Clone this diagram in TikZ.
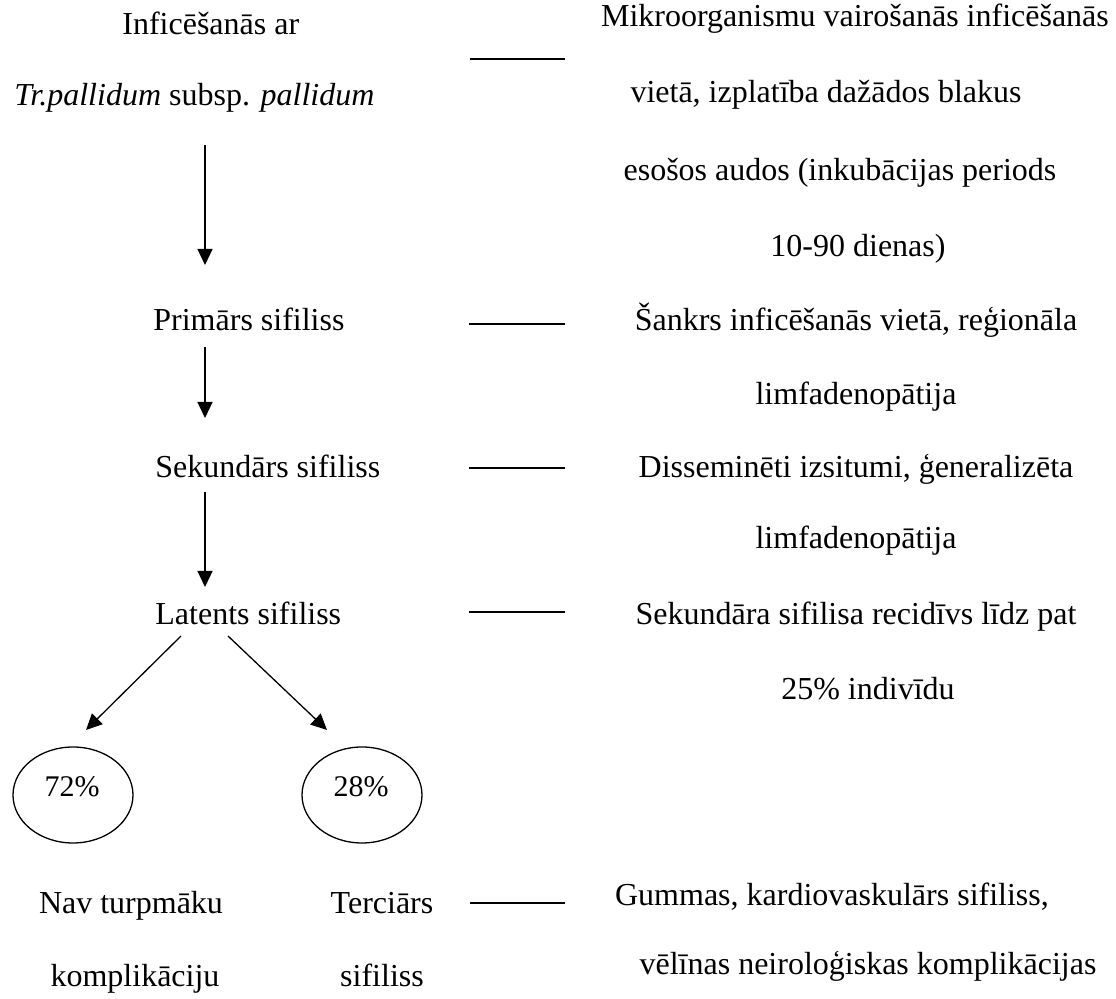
\documentclass[tikz,border=0pt]{standalone}
\usepackage{fontspec}
\setmainfont{Liberation Serif}
\usetikzlibrary{shapes.geometric, arrows.meta, positioning}

\begin{document}
\begin{tikzpicture}[
    x=0.5pt, y=-0.5pt,
    stage/.style={inner sep=0pt, font=\fontsize{16}{19}\selectfont, anchor=base west},
    note/.style={inner sep=0pt, font=\fontsize{16}{19}\selectfont, anchor=base},
    share/.style={ellipse, draw, line width=0.65pt, minimum width=60pt, minimum height=48pt},
    pct/.style={inner sep=0pt, font=\fontsize{15}{18}\selectfont},
    arrow/.style={-{Triangle[length=8pt, width=7.5pt]}, line width=0.65pt},
    link/.style={line width=0.65pt}
]
\useasboundingbox (0,0) rectangle (1116,999);

% left column
\node[stage] (inf) at (122,35) {Inficēšanās ar};
\node[stage] (tr) at (14,106) {\textit{Tr.pallidum} subsp. \textit{pallidum}};
\node[stage] (prim) at (153,331) {Primārs sifiliss};
\node[stage] (sek) at (155,478) {Sekundārs sifiliss};
\node[stage] (lat) at (155,625) {Latents sifiliss};
\node[share] (e72) at (73,795) {};
\node[share] (e28) at (362,795) {};
\node[pct] (p72) at (72,787) {72\%};
\node[pct] (p28) at (361,787) {28\%};
\node[note] (nav) at (131,914) {Nav turpmāku};
\node[note] (kompl) at (135,987) {komplikāciju};
\node[note] (terc) at (382,914) {Terciārs};
\node[note] (tsif) at (382,987) {sifiliss};

% right column
\node[note] (m1) at (855,27) {Mikroorganismu vairošanās inficēšanās};
\node[note] (m2) at (826,103) {vietā, izplatība dažādos blakus};
\node[note] (m3) at (840,181) {esošos audos (inkubācijas periods};
\node[note] (m4) at (858,257) {10-90 dienas)};
\node[note] (s1) at (856,331) {Šankrs inficēšanās vietā, reģionāla};
\node[note] (s2) at (856,405) {limfadenopātija};
\node[note] (d1) at (856,478) {Disseminēti izsitumi, ģeneralizēta};
\node[note] (d2) at (856,549) {limfadenopātija};
\node[note] (r1) at (856,625) {Sekundāra sifilisa recidīvs līdz pat};
\node[note] (r2) at (868,700) {25\% indivīdu};
\node[note] (g1) at (832,906) {Gummas, kardiovaskulārs sifiliss,};
\node[note] (g2) at (868,975) {vēlīnas neiroloģiskas komplikācijas};

% connector ends
\coordinate (a1) at (205,145);
\coordinate (b1) at (205,265);
\coordinate (a2) at (205,347);
\coordinate (b2) at (205,418);
\coordinate (a3) at (205,492);
\coordinate (b3) at (205,587);
\coordinate (la) at (181,636);
\coordinate (lb) at (86,730);
\coordinate (ra) at (228,636);
\coordinate (rb) at (327,730);
\coordinate (t0) at (470,59);
\coordinate (t1) at (565,59);
\coordinate (u0) at (469,324);
\coordinate (u1) at (565,324);
\coordinate (v0) at (469,468);
\coordinate (v1) at (565,468);
\coordinate (w0) at (469,612);
\coordinate (w1) at (565,612);
\coordinate (z0) at (470,903);
\coordinate (z1) at (565,903);

\draw[arrow] (a1) -- (b1);
\draw[arrow] (a2) -- (b2);
\draw[arrow] (a3) -- (b3);
\draw[arrow] (la) -- (lb);
\draw[arrow] (ra) -- (rb);

\draw[link] (t0) -- (t1);
\draw[link] (u0) -- (u1);
\draw[link] (v0) -- (v1);
\draw[link] (w0) -- (w1);
\draw[link] (z0) -- (z1);
\end{tikzpicture}
\end{document}
